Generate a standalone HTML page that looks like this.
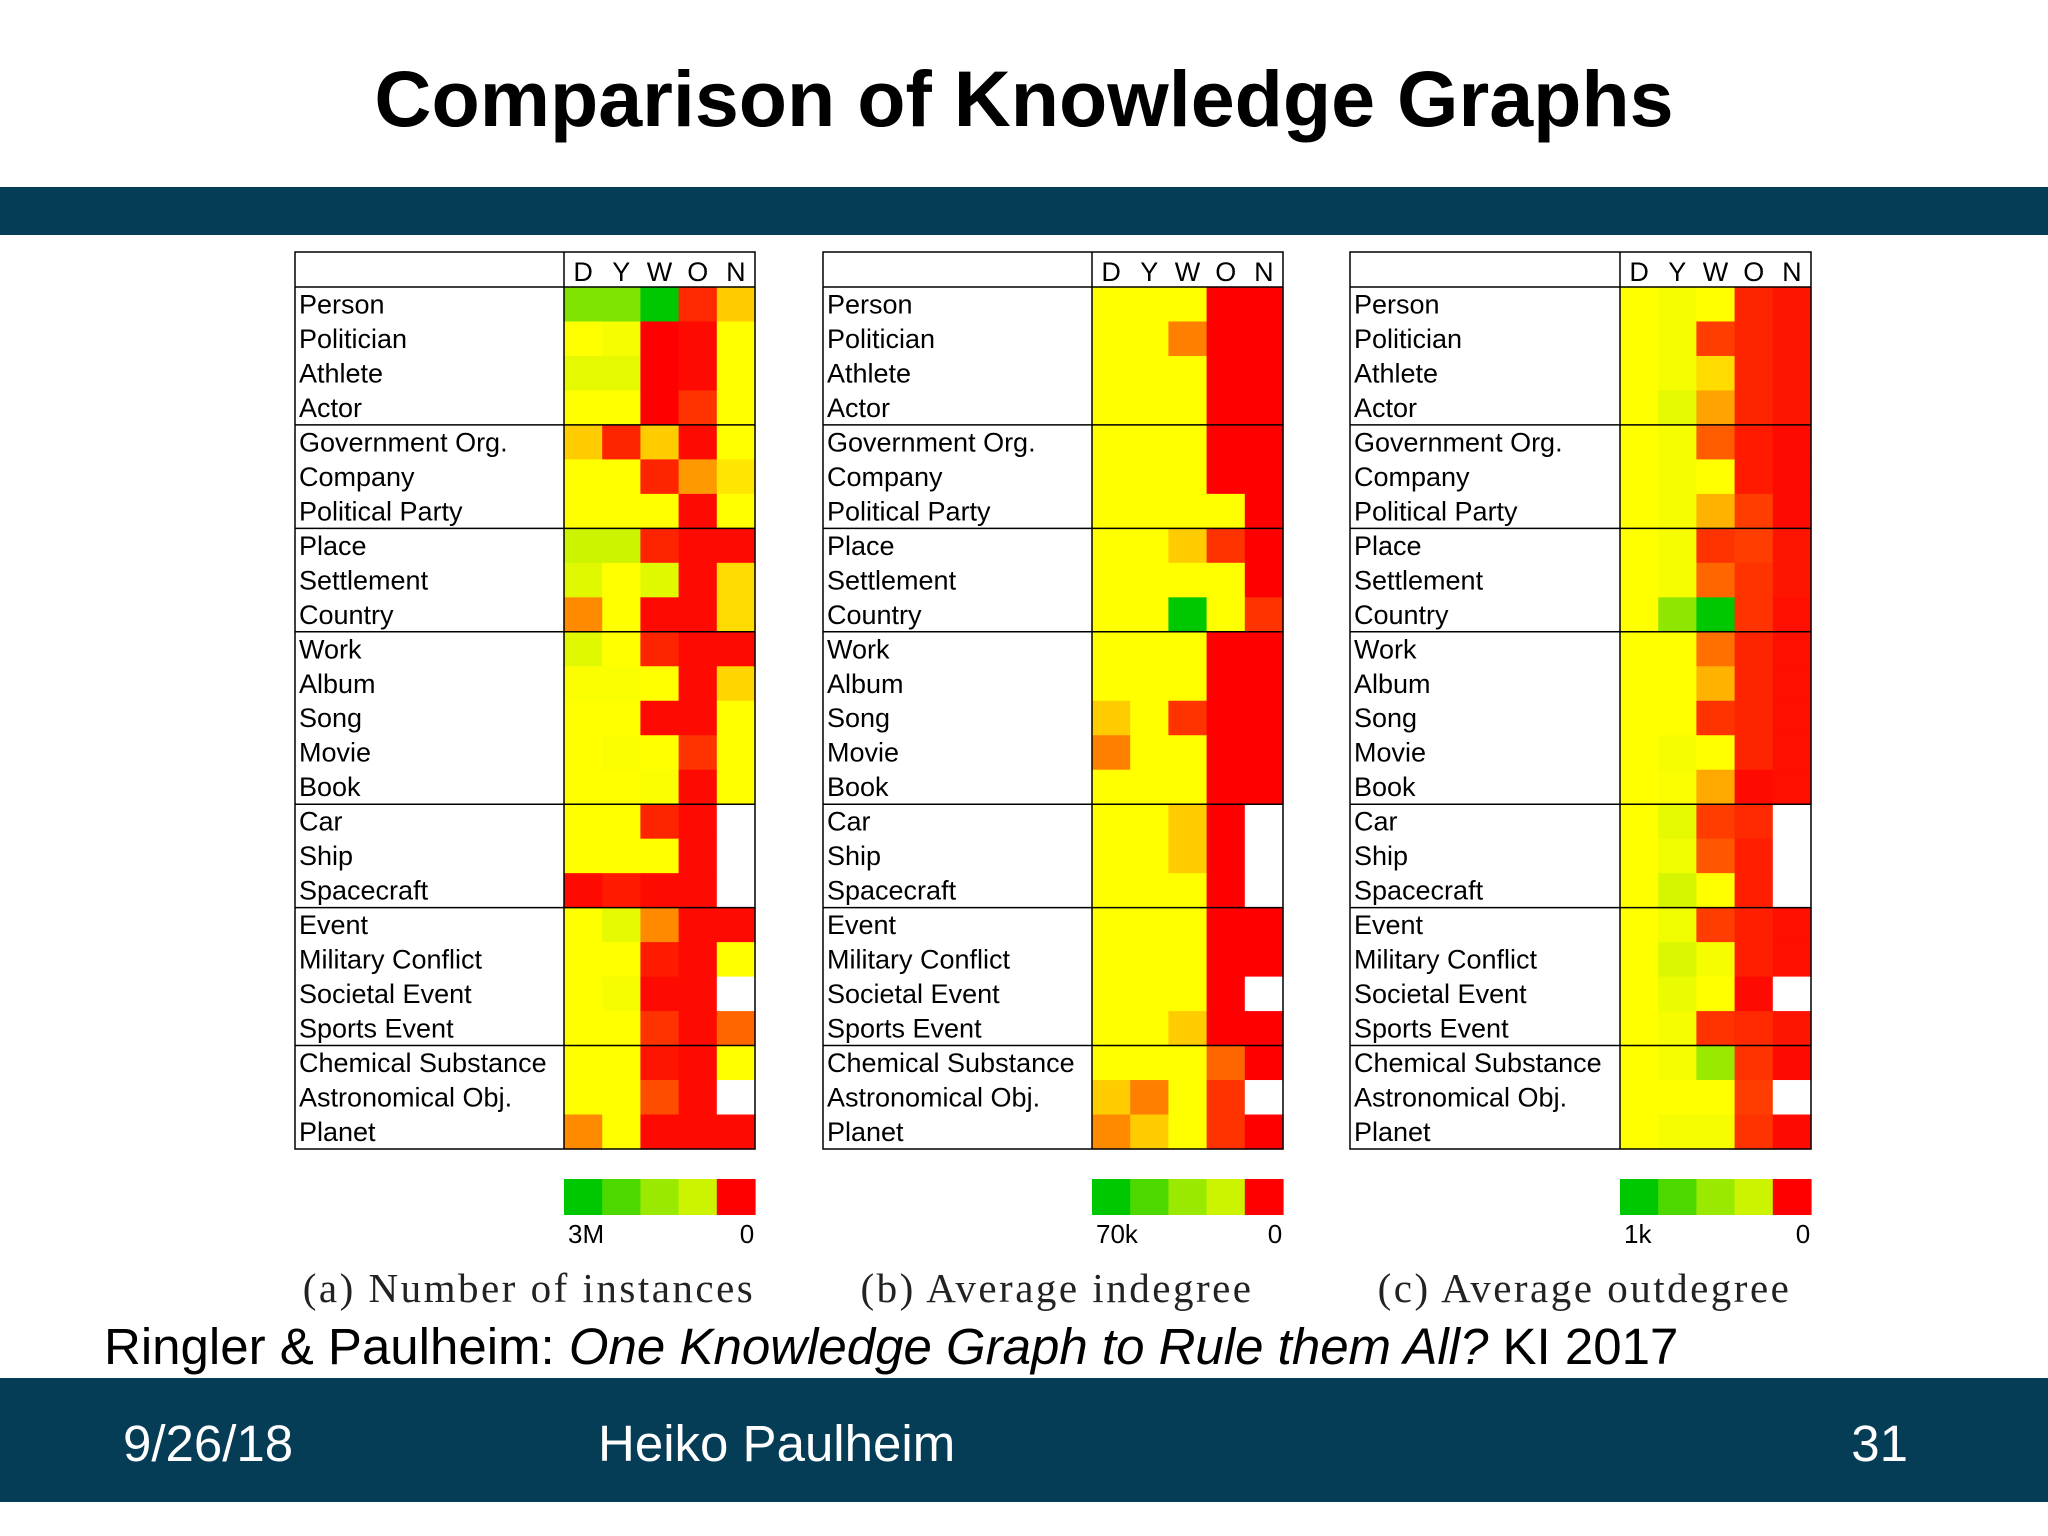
<!DOCTYPE html>
<html><head><meta charset="utf-8">
<style>
body{margin:0;background:#fff;}
#root{position:relative;width:2048px;height:1536px;overflow:hidden;background:#fff;font-family:"Liberation Sans",sans-serif;}
.abs{position:absolute;}
</style></head>
<body>
<div id="root">
<div class="abs" style="left:0;width:2048px;top:53px;text-align:center;font-weight:bold;font-size:79px;color:#000;">Comparison of Knowledge Graphs</div>
<div class="abs" style="left:0;top:187px;width:2048px;height:48px;background:#053d56;"></div>
<svg id="chart" class="abs" style="left:0;top:0" width="2048" height="1370"></svg>
<div class="abs" style="left:104px;top:1317px;font-size:51px;color:#000;white-space:nowrap;">Ringler &amp; Paulheim: <i>One Knowledge Graph to Rule them All?</i> KI 2017</div>
<div class="abs" style="left:0;top:1378px;width:2048px;height:124px;background:#053d56;"></div>
<div class="abs" style="left:123px;top:1414px;font-size:51px;color:#fff;">9/26/18</div>
<div class="abs" style="left:598px;top:1414px;font-size:51px;color:#fff;">Heiko Paulheim</div>
<div class="abs" style="left:1820px;width:88px;text-align:right;top:1414px;font-size:51px;color:#fff;">31</div>
</div>
<script>
const rows=["Person","Politician","Athlete","Actor","Government Org.","Company","Political Party","Place","Settlement","Country","Work","Album","Song","Movie","Book","Car","Ship","Spacecraft","Event","Military Conflict","Societal Event","Sports Event","Chemical Substance","Astronomical Obj.","Planet"];
const cols=["D","Y","W","O","N"];
const groupEnds=[4,7,10,15,18,22];
const N=null;
const instances=[
[.75,.75,1,.08,.4],[.5,.52,0,.02,.5],[.55,.55,0,.02,.5],[.5,.5,0,.1,.5],
[.4,.07,.4,.02,.5],[.5,.5,.07,.3,.45],[.5,.5,.5,.02,.5],
[.6,.6,.07,.02,.02],[.56,.5,.56,.02,.43],[.27,.5,.02,.02,.43],
[.56,.5,.07,.02,.02],[.51,.51,.5,.02,.42],[.5,.5,.02,.02,.5],[.5,.51,.5,.1,.5],[.5,.5,.51,.02,.5],
[.5,.5,.07,.02,N],[.5,.5,.5,.02,N],[.02,.05,.02,.02,N],
[.5,.55,.27,.02,.02],[.5,.5,.05,.02,.5],[.5,.52,.02,.02,N],[.5,.5,.1,.02,.2],
[.5,.5,.04,.02,.5],[.5,.5,.15,.02,N],[.27,.5,.02,.02,.02]];
const indegree=[
[.5,.5,.5,0,0],[.5,.5,.25,0,0],[.5,.5,.5,0,0],[.5,.5,.5,0,0],
[.5,.5,.5,0,0],[.5,.5,.5,0,0],[.5,.5,.5,.5,0],
[.5,.5,.4,.1,0],[.5,.5,.5,.5,0],[.5,.5,1,.5,.1],
[.5,.5,.5,0,0],[.5,.5,.5,0,0],[.4,.5,.1,0,0],[.25,.5,.5,0,0],[.5,.5,.5,0,0],
[.5,.5,.4,0,N],[.5,.5,.4,0,N],[.5,.5,.5,0,N],
[.5,.5,.5,0,0],[.5,.5,.5,0,0],[.5,.5,.5,0,N],[.5,.5,.4,0,0],
[.5,.5,.5,.2,0],[.4,.25,.5,.1,N],[.27,.4,.5,.1,0]];
const outdegree=[
[.5,.52,.5,.07,.04],[.5,.52,.12,.07,.04],[.5,.52,.43,.07,.04],[.5,.55,.32,.07,.04],
[.5,.52,.18,.05,.02],[.5,.52,.5,.05,.02],[.5,.52,.35,.12,.02],
[.5,.52,.1,.12,.04],[.5,.52,.2,.1,.04],[.5,.72,1,.1,.03],
[.5,.5,.22,.07,.03],[.5,.5,.35,.07,.03],[.5,.5,.1,.07,.03],[.5,.52,.5,.07,.03],[.5,.51,.33,.02,.03],
[.5,.55,.12,.08,N],[.5,.53,.17,.06,N],[.5,.58,.5,.06,N],
[.5,.53,.12,.06,.03],[.5,.57,.52,.06,.03],[.5,.54,.5,.02,N],[.5,.52,.1,.08,.04],
[.5,.52,.7,.1,.02],[.5,.5,.5,.12,N],[.5,.52,.52,.1,.02]];
const captions=["(a) Number of instances","(b) Average indegree","(c) Average outdegree"];
const maxLabels=["3M","70k","1k"];
const legendSteps=[1,.85,.7,.6,0];

const svg=document.getElementById('chart');
const NS="http://www.w3.org/2000/svg";
function color(v){
  if(v===null) return "#ffffff";
  let r,g;
  if(v<=.5){r=255;g=Math.round(510*v);}
  else{const t=(v-.5)*2;r=Math.round(255*(1-t));g=Math.round(255-55*t);}
  return `rgb(${r},${g},0)`;
}
function el(tag,attrs,parent){const e=document.createElementNS(NS,tag);for(const k in attrs)e.setAttribute(k,attrs[k]);(parent||svg).appendChild(e);return e;}
const panels=[{x:295,cx:564,data:instances},{x:823,cx:1092,data:indegree},{x:1350,cx:1620,data:outdegree}];
const boxTop=252,hdr=287,bot=1149,right=191;
const rh=(bot-hdr)/rows.length, cw=right/cols.length;
function xs(p,j){return p.cx+j*cw;}
function ys(i){return hdr+i*rh;}
panels.forEach((p,pi)=>{
  const g=el('g',{});
  
  
  p.data.forEach((row,i)=>row.forEach((v,j)=>{
    const r=el('rect',{x:xs(p,j),y:ys(i),width:cw+0.6,height:rh+0.6,fill:color(v)},g);
    
    
  }));
  rows.forEach((name,i)=>{
    const t=el('text',{x:p.x+4,y:ys(i)+rh-8,'font-size':27,'font-family':'Liberation Sans, sans-serif',fill:'#000'},g);
    t.textContent=name;
    
    
  });
  cols.forEach((c,j)=>{
    const t=el('text',{x:xs(p,j)+cw/2,y:hdr-6,'font-size':27,'text-anchor':'middle','font-family':'Liberation Sans, sans-serif'},g);
    t.textContent=c;
    
    
  });
  el('rect',{x:p.x,y:boxTop,width:p.cx+right-p.x,height:bot-boxTop,fill:'none',stroke:'#000','stroke-width':1.5},g);
  el('line',{x1:p.x,x2:p.cx+right,y1:hdr,y2:hdr,stroke:'#000','stroke-width':1.5},g);
  el('line',{x1:p.cx,x2:p.cx,y1:boxTop,y2:bot,stroke:'#000','stroke-width':1.5},g);
  groupEnds.forEach(k=>el('line',{x1:p.x,x2:p.cx+right,y1:ys(k),y2:ys(k),stroke:'#000','stroke-width':1.5},g));
  const lg=el('g',{},g);
  
  
  legendSteps.forEach((v,k)=>el('rect',{x:p.cx+k*cw,y:1179,width:cw+0.6,height:36,fill:color(v)},lg));
  const t1=el('text',{x:p.cx+4,y:1243,'font-size':26,'font-family':'Liberation Sans, sans-serif'},lg);t1.textContent=maxLabels[pi];
  const t2=el('text',{x:p.cx+right-8,y:1243,'font-size':26,'text-anchor':'middle','font-family':'Liberation Sans, sans-serif'},lg);t2.textContent="0";
  const cap=el('text',{x:(p.x+p.cx+right)/2+4,y:1302,'font-size':41,'text-anchor':'middle','font-family':'Liberation Serif, serif',fill:'#222','letter-spacing':'2.5'},g);
  cap.textContent=captions[pi];
  
  
});
</script>
</body></html>
